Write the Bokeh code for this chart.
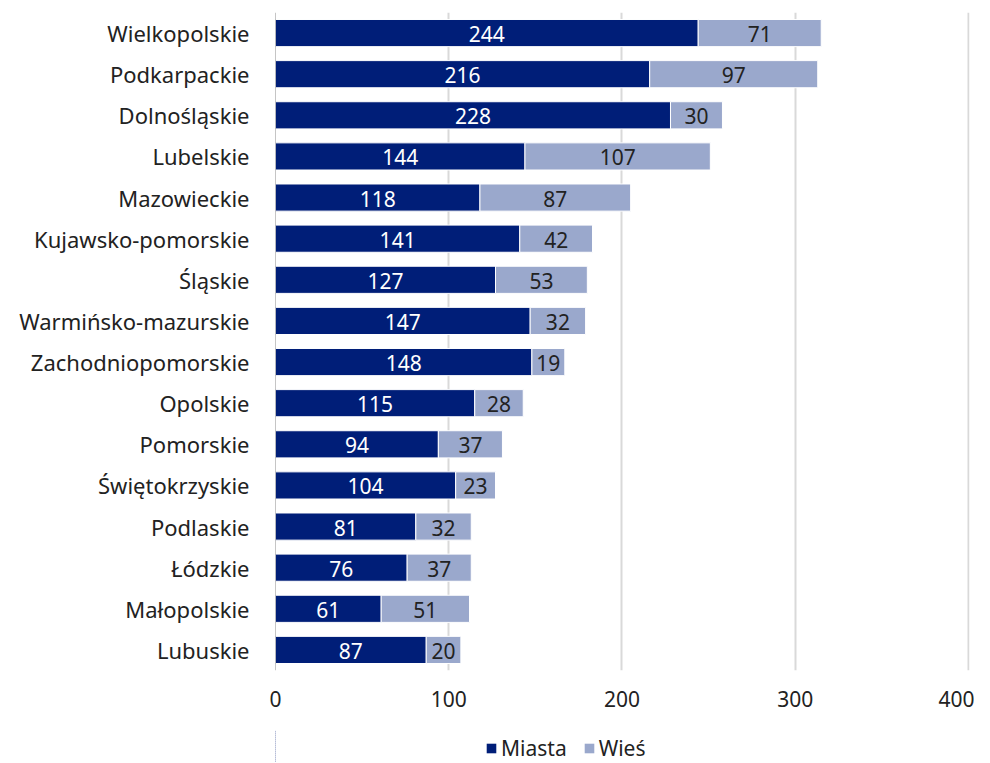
from bokeh.plotting import figure
from bokeh.models import ColumnDataSource, Legend, LegendItem, FixedTicker, Span, Range1d
from bokeh.layouts import column
from bokeh.core.properties import value
from bokeh.embed import file_html
from bokeh.resources import INLINE

regions = ["Wielkopolskie", "Podkarpackie", "Dolnośląskie", "Lubelskie", "Mazowieckie",
           "Kujawsko-pomorskie", "Śląskie", "Warmińsko-mazurskie", "Zachodniopomorskie",
           "Opolskie", "Pomorskie", "Świętokrzyskie", "Podlaskie", "Łódzkie",
           "Małopolskie", "Lubuskie"]
miasta = [244, 216, 228, 144, 118, 141, 127, 147, 148, 115, 94, 104, 81, 76, 61, 87]
wies = [71, 97, 30, 107, 87, 42, 53, 32, 19, 28, 37, 23, 32, 37, 51, 20]
series_names = ["Miasta", "Wieś"]
x_ticks = [0, 100, 200, 300, 400]

FONT = "Noto Sans"
FS = "21px"
C_M = "#001e78"
C_W = "#9aa8cc"
TXT = "#222222"

src = ColumnDataSource(dict(
    region=regions,
    miasta=miasta,
    wies=wies,
    total=[m + w for m, w in zip(miasta, wies)],
    mid_m=[m / 2 for m in miasta],
    mid_w=[m + w / 2 for m, w in zip(miasta, wies)],
    lab_m=[str(m) for m in miasta],
    lab_w=[str(w) for w in wies],
))

p = figure(frame_width=694, frame_height=658, y_range=list(reversed(regions)), x_range=(0, 400.6),
           output_backend="svg", toolbar_location=None,
           min_border_left=275, min_border_right=5, min_border_top=12, min_border_bottom=60)
p.outline_line_color = None

r1 = p.hbar(y="region", left=0, right="miasta", height=0.66, source=src,
            fill_color=C_M, line_color="white", line_width=1)
r2 = p.hbar(y="region", left="miasta", right="total", height=0.66, source=src,
            fill_color=C_W, line_color="white", line_width=1)

p.text(x="mid_m", y="region", text="lab_m", source=src, text_align="center",
       text_baseline="middle", text_color="white", text_font=value(FONT), text_font_size=FS,
       y_offset=1)
p.text(x="mid_w", y="region", text="lab_w", source=src, text_align="center",
       text_baseline="middle", text_color=TXT, text_font=value(FONT), text_font_size=FS,
       y_offset=1)

p.add_layout(Span(location=0, dimension="height", line_color="#8c8c8c", line_width=1))

p.xaxis.ticker = FixedTicker(ticks=x_ticks)
p.xaxis.axis_line_color = None
p.xaxis.major_tick_line_color = None
p.xaxis.minor_tick_line_color = None
p.xaxis.major_label_text_font = FONT
p.xaxis.major_label_text_font_size = FS
p.xaxis.major_label_text_color = TXT
p.xaxis.major_label_standoff = 14

p.yaxis.axis_line_color = None
p.yaxis.major_tick_line_color = None
p.yaxis.minor_tick_line_color = None
p.yaxis.major_label_text_font = FONT
p.yaxis.major_label_text_font_size = "22px"
p.yaxis.major_label_text_color = TXT
p.yaxis.major_label_standoff = 20

p.ygrid.grid_line_color = None
p.xgrid.grid_line_color = "#d9d9d9"
p.xgrid.grid_line_width = 2

# legend strip below the chart; its bars lie outside its visible x range (only swatches show)
lf = figure(width=974, height=32, y_range=list(reversed(regions)), x_range=Range1d(340, 400),
            output_backend="svg", toolbar_location=None,
            min_border_left=0, min_border_right=0, min_border_top=0, min_border_bottom=0)
lf.axis.visible = False
lf.grid.grid_line_color = None
lf.outline_line_color = None
l1 = lf.hbar(y="region", left=0, right="miasta", height=0.66, source=src,
             fill_color=C_M, line_color=None)
l2 = lf.hbar(y="region", left="miasta", right="total", height=0.66, source=src,
             fill_color=C_W, line_color=None)

legend = Legend(items=[LegendItem(label=series_names[0], renderers=[l1]),
                       LegendItem(label=series_names[1], renderers=[l2])],
                orientation="horizontal", location=(210, 0),
                label_text_font=FONT, label_text_font_size=FS, label_text_color=TXT,
                glyph_width=12, glyph_height=12, spacing=16, label_standoff=4,
                border_line_color=None, background_fill_alpha=0, margin=0, padding=2)
lf.add_layout(legend, "center")

layout = column(p, lf, spacing=0)
open("out.html", "w").write(file_html(layout, INLINE))
